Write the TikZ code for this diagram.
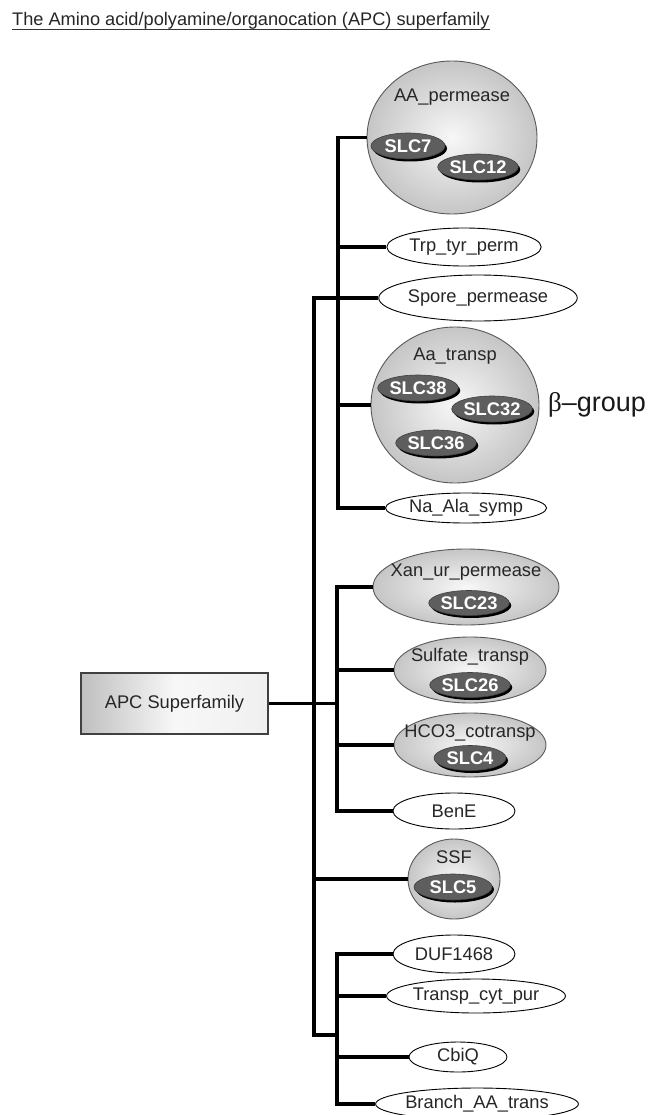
\documentclass[tikz,border=0pt]{standalone}
\usepackage{fontspec}
\setmainfont{Liberation Sans}
\newfontfamily\grk{Liberation Serif}
\usetikzlibrary{shapes.geometric,shadows}
\begin{document}
\begin{tikzpicture}[x=1pt,y=-1pt,
  conn/.style={line width=3.3pt, black},
  leaf/.style={ellipse, draw=black, line width=0.9pt, fill=white, inner sep=0pt,
    font=\fontsize{18.3}{20}\selectfont, text=black!85},
  fam/.style={ellipse, draw=black!65, line width=0.9pt, inner sep=0pt,
    inner color=gray!6, outer color=gray!45},
  slc/.style={ellipse, draw=black!75, line width=0.6pt, fill=black!63, inner sep=0pt,
    minimum width=74, minimum height=26, text=white,
    font=\bfseries\fontsize{18.3}{20}\selectfont,
    drop shadow={shadow xshift=2pt, shadow yshift=-2.5pt, fill=black, opacity=1}},
  lbl/.style={font=\fontsize{18.3}{20}\selectfont, text=black!85, inner sep=0pt},
]
\useasboundingbox[fill=white] (0,0) rectangle (659,1115);

\node[anchor=base west, inner sep=0pt, font=\fontsize{18.2}{20}\selectfont, text=black!85]
  (title) at (12,26) {The Amino acid/polyamine/organocation (APC) superfamily};
\draw[line width=1.3pt, black!80] (title.base west) ++(0,3.5) coordinate (ul) -- (ul -| title.east);

% root box
\node[draw=black!75, line width=1.1pt, minimum width=187, minimum height=61,
  left color=gray!50, right color=gray!12, middle color=gray!6,
  font=\fontsize{18.3}{20}\selectfont, text=black!85] (apc) at (174.5,703.5) {APC Superfamily};

% families
\node[fam, minimum width=170, minimum height=153] (aa) at (452,137.5) {};
\node[lbl] (aalbl) at (452,97) {AA\_permease};
\node[slc] (slc7) at (408,146) {SLC7};
\node[slc] (slc12) at (478,167) {SLC12};

\node[leaf, minimum width=134, minimum height=38] (trp) at (464,247) {Trp\_tyr\_perm};
\node[leaf, minimum width=170, minimum height=46] (sp) at (478,298) {Spore\_permease};

\node[fam, minimum width=168, minimum height=156] (aat) at (455,405) {};
\node[lbl] (aatlbl) at (455,356) {Aa\_transp};
\node[slc] (slc38) at (418,388) {SLC38};
\node[slc] (slc32) at (492,409) {SLC32};
\node[slc] (slc36) at (436,443) {SLC36};
\node[anchor=west, inner sep=0pt, font=\fontsize{27}{29}\selectfont, text=black!90]
  (beta) at (548,405) {{\grk β}–group};

\node[leaf, minimum width=146, minimum height=30] (na) at (466,508) {Na\_Ala\_symp};

\node[fam, minimum width=186, minimum height=76] (xan) at (466,587) {};
\node[lbl] (xanlbl) at (466,572) {Xan\_ur\_permease};
\node[slc, minimum width=72, minimum height=25] (slc23) at (469,603) {SLC23};

\node[fam, minimum width=152, minimum height=66] (sul) at (470,670) {};
\node[lbl] (sullbl) at (470,657) {Sulfate\_transp};
\node[slc, minimum width=72, minimum height=25] (slc26) at (470,685) {SLC26};

\node[fam, minimum width=152, minimum height=64] (hco) at (470,745) {};
\node[lbl] (hcolbl) at (470,733) {HCO3\_cotransp};
\node[slc, minimum width=72, minimum height=25] (slc4) at (470,758) {SLC4};

\node[leaf, minimum width=122, minimum height=36] (bene) at (454,811) {BenE};

\node[fam, minimum width=92, minimum height=80] (ssf) at (454,879) {};
\node[lbl] (ssflbl) at (454,857) {SSF};
\node[slc, minimum width=78, minimum height=26] (slc5) at (453,887) {SLC5};

\node[leaf, minimum width=122, minimum height=38] (duf) at (454,954) {DUF1468};
\node[leaf, minimum width=166, minimum height=34] (tcp) at (476,996) {Transp\_cyt\_pur};
\node[leaf, minimum width=98, minimum height=30] (cbiq) at (458,1057) {CbiQ};
\node[leaf, minimum width=168, minimum height=32] (br) at (477,1104) {Branch\_AA\_trans};

% connector rails
\coordinate (vt) at (338,0);
\coordinate (vm) at (337,0);
\coordinate (vb) at (337,0);
\coordinate (tr) at (314,0);
\coordinate (bj) at (314,1035);

% top group
\draw[conn] (aa.west) -- (aa.west -| vt) -- (na.west -| vt) -- (na.west);
\draw[conn] (trp.west -| vt) -- (trp.west);
\draw[conn] (aat.west -| vt) -- (aat.west);
% trunk
\draw[conn] (sp.west) -- (sp.west -| tr) -- (bj) -- (bj -| vb);
\draw[conn] (ssf.west -| tr) -- (ssf.west);
\draw[conn] (apc.east) -- (apc.east -| vm);
% middle group
\draw[conn] (xan.west) -- (xan.west -| vm) -- (bene.west -| vm) -- (bene.west);
\draw[conn] (sul.west -| vm) -- (sul.west);
\draw[conn] (hco.west -| vm) -- (hco.west);
% bottom group
\draw[conn] (duf.west) -- (duf.west -| vb) -- (br.west -| vb) -- (br.west);
\draw[conn] (tcp.west -| vb) -- (tcp.west);
\draw[conn] (cbiq.west -| vb) -- (cbiq.west);
\end{tikzpicture}
\end{document}
